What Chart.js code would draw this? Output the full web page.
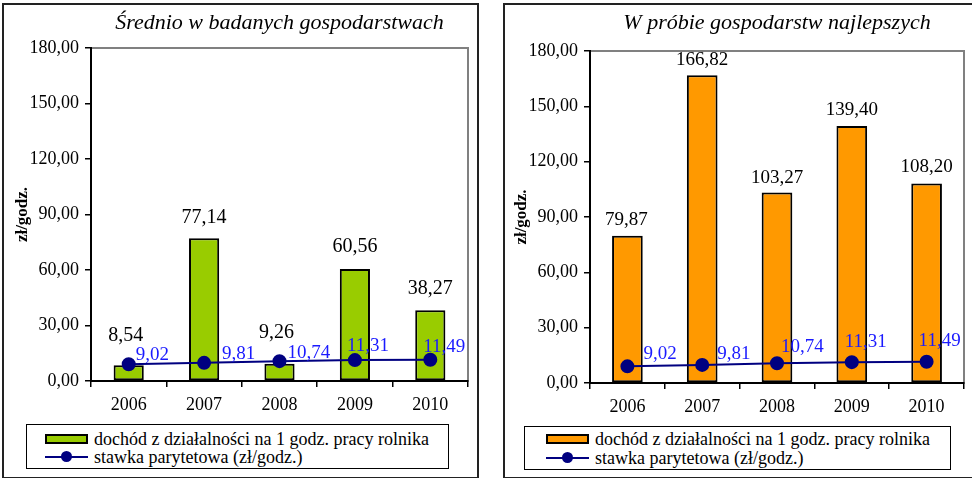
<!DOCTYPE html>
<html lang="pl">
<head>
<meta charset="utf-8">
<script src="https://cdn.jsdelivr.net/npm/chart.js@4.4.1/dist/chart.umd.min.js"></script>
<style>
    body { margin: 0; background: #fff; width: 972px; height: 478px; overflow: hidden; position: relative;
           font-family: 'Liberation Serif', 'Times New Roman', serif; }
    canvas { position: absolute; top: 0; }
    .frame { position: absolute; border: 2px solid #222; box-sizing: border-box; pointer-events: none; }
    .legend { position: absolute; border: 1px solid #000; box-sizing: border-box; background: #fff; font-size: 18px; color: #000; }
    .row { position: absolute; height: 18px; display: flex; align-items: center; white-space: nowrap; }
    .swatch { width: 43px; height: 10px; border: 2px solid #000; box-sizing: border-box; margin-right: 6px; }
    .lineKey { position: relative; width: 43px; height: 12px; margin-right: 6px; }
    .lineKey:before { content: ''; position: absolute; left: 0; right: 0; top: 5px; height: 2px; background: #000080; }
    .lineKey:after { content: ''; position: absolute; left: 16px; top: 0; width: 11px; height: 11px; border-radius: 50%; background: #000080; }
</style>
</head>
<body>
<canvas id="chartAvg" width="486" height="478" style="left:0"></canvas>
<canvas id="chartBest" width="486" height="478" style="left:486px"></canvas>

<div class="frame" style="left:2px;top:3px;width:477px;height:476px"></div>
<div class="frame" style="left:503px;top:3px;width:472px;height:476px"></div>

<div class="legend" style="left:26px;top:424px;width:423px;height:45px">
    <div class="row" style="left:18px;top:5px"><span class="swatch" style="background:#99CC00"></span><span class="lbl-bar"></span></div>
    <div class="row" style="left:18px;top:23px"><span class="lineKey"></span><span class="lbl-line"></span></div>
</div>
<div class="legend" style="left:524px;top:426px;width:427px;height:44px">
    <div class="row" style="left:21px;top:3px"><span class="swatch" style="background:#FF9900"></span><span class="lbl-bar"></span></div>
    <div class="row" style="left:21px;top:22px"><span class="lineKey"></span><span class="lbl-line"></span></div>
</div>

<script>
// dane
const years = ['2006', '2007', '2008', '2009', '2010'];
const incomeAvg = [8.54, 77.14, 9.26, 60.56, 38.27];
const incomeBest = [79.87, 166.82, 103.27, 139.40, 108.20];
const parityRate = [9.02, 9.81, 10.74, 11.31, 11.49];
const yMin = 0, yMax = 180, yStep = 30;

const titleAvg = 'Średnio w badanych gospodarstwach';
const titleBest = 'W próbie gospodarstw najlepszych';
const barLabel = 'dochód z działalności na 1 godz. pracy rolnika';
const lineLabel = 'stawka parytetowa (zł/godz.)';
const axisTitle = 'zł/godz.';

const FONT = "'Liberation Serif', 'Times New Roman', serif";

// format liczby z przecinkiem
function fmt(v) {
    return Number(v).toFixed(2).replace('.', ',');
}

document.querySelectorAll('.lbl-bar').forEach(el => el.textContent = barLabel);
document.querySelectorAll('.lbl-line').forEach(el => el.textContent = lineLabel);

// ramka obszaru wykresu, tytuł i etykiety wartości
const panelDecor = {
    id: 'panelDecor',
    beforeDraw(chart) {
        const a = chart.chartArea;
        const ctx = chart.ctx;
        ctx.save();
        ctx.strokeStyle = '#808080';
        ctx.lineWidth = 2;
        ctx.strokeRect(a.left, a.top, a.right - a.left, a.bottom - a.top);
        ctx.restore();
    },
    afterDraw(chart, args, opts) {
        const ctx = chart.ctx;
        const a = chart.chartArea;
        ctx.save();

        // tytuł
        ctx.font = 'italic 22px ' + FONT;
        ctx.fillStyle = '#000';
        ctx.textAlign = 'center';
        ctx.textBaseline = 'middle';
        ctx.fillText(opts.title, (a.left + a.right) / 2, opts.titleY);

        // wartości słupków
        const barMeta = chart.getDatasetMeta(0);
        ctx.font = opts.barFont + 'px ' + FONT;
        barMeta.data.forEach((el, i) => {
            const v = chart.data.datasets[0].data[i];
            ctx.fillText(fmt(v), el.x + opts.barDx[i], el.y - opts.barDy[i]);
        });

        // wartości stawki
        const lineMeta = chart.getDatasetMeta(1);
        ctx.font = '19px ' + FONT;
        ctx.fillStyle = '#1a1aff';
        ctx.textAlign = 'left';
        lineMeta.data.forEach((el, i) => {
            const v = chart.data.datasets[1].data[i];
            ctx.fillText(fmt(v), el.x + opts.lineDx[i], el.y + opts.lineDy[i]);
        });
        ctx.restore();
    }
};

function createPanel(canvasId, barData, barColor, layout) {
    const ctx = document.getElementById(canvasId);
    return new Chart(ctx, {
        type: 'bar',
        data: {
            labels: years,
            datasets: [
                {
                    label: barLabel,
                    data: barData,
                    backgroundColor: barColor,
                    borderColor: '#000',
                    borderWidth: 2,
                    borderSkipped: false,
                    barPercentage: layout.barPct,
                    categoryPercentage: 1,
                    order: 2
                },
                {
                    label: lineLabel,
                    type: 'line',
                    data: parityRate,
                    borderColor: '#000080',
                    backgroundColor: '#000080',
                    borderWidth: 2,
                    pointRadius: 6,
                    pointBackgroundColor: '#000080',
                    pointBorderColor: '#000080',
                    tension: 0,
                    order: 1
                }
            ]
        },
        options: {
            responsive: false,
            animation: false,
            layout: {
                padding: { left: 0, top: layout.top, right: layout.right, bottom: 0 }
            },
            plugins: {
                legend: { display: false },
                title: { display: false },
                tooltip: { enabled: false },
                panelDecor: {
                    title: layout.title,
                    titleY: 23,
                    barFont: layout.barFont,
                    barDx: layout.barDx,
                    barDy: layout.barDy,
                    lineDx: layout.lineDx,
                    lineDy: layout.lineDy
                }
            },
            scales: {
                x: {
                    offset: true,
                    grid: { offset: true, drawOnChartArea: false, color: '#000', tickLength: 6, lineWidth: 1.5 },
                    border: { color: '#000', width: 2 },
                    ticks: { color: '#000', padding: 7, font: { family: FONT, size: 18 } },
                    afterFit(scale) { scale.height = layout.xHeight; }
                },
                y: {
                    min: yMin,
                    max: yMax,
                    grid: { drawOnChartArea: false, color: '#000', tickLength: 6, lineWidth: 1.5 },
                    border: { color: '#000', width: 2 },
                    ticks: {
                        stepSize: yStep,
                        color: '#000',
                        padding: 6,
                        font: { family: FONT, size: 18 },
                        callback: v => fmt(v)
                    },
                    title: {
                        display: true,
                        text: axisTitle,
                        color: '#000',
                        font: { family: FONT, size: 17, weight: 'bold' },
                        padding: { top: layout.titlePad, bottom: 0 }
                    },
                    afterFit(scale) { scale.width = layout.yWidth; }
                }
            }
        },
        plugins: [panelDecor]
    });
}

createPanel('chartAvg', incomeAvg, '#99CC00', {
    title: titleAvg,
    top: 48, right: 18, xHeight: 97, yWidth: 91, titlePad: 12, barPct: 0.4, barFont: 20,
    barDx: [-3, 0, -3, 0, 0],
    barDy: [29, 21, 31, 22, 21],
    lineDx: [7, 18, 8, -8, -7],
    lineDy: [-9, -9, -8, -14, -13]
});

createPanel('chartBest', incomeBest, '#FF9900', {
    title: titleBest,
    top: 51, right: 3, xHeight: 95, yWidth: 104, titlePad: 25, barPct: 0.41, barFont: 19,
    barDx: [-1, 0, 0, 0, 0],
    barDy: [16, 15, 15, 16, 16],
    lineDx: [16, 15, 4, -7, -8],
    lineDy: [-12, -11, -16, -20, -21]
});
</script>
</body>
</html>
